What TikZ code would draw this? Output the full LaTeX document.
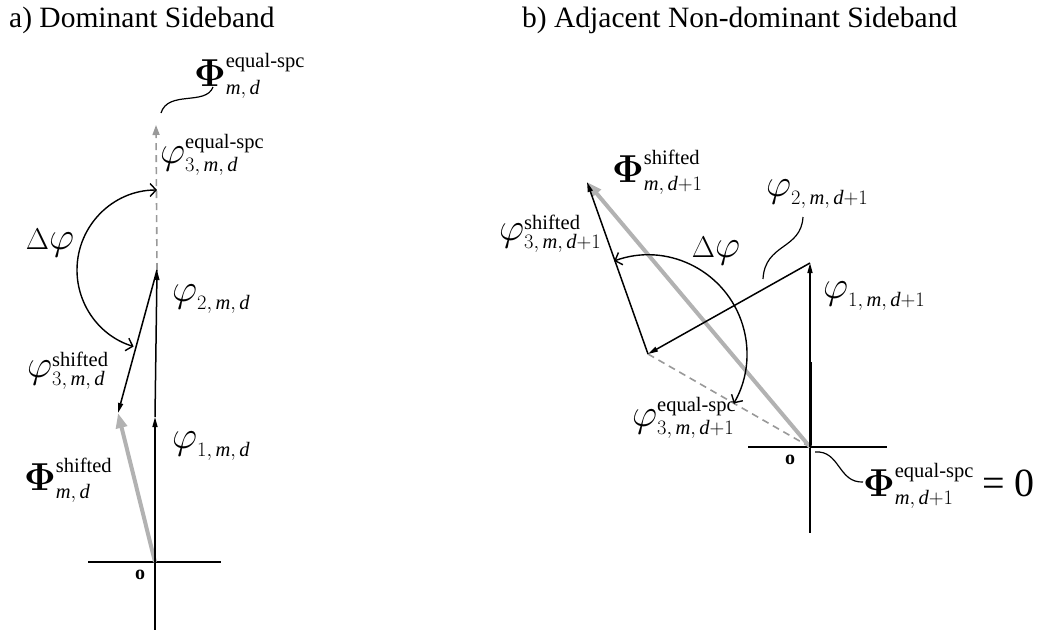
\RequirePackage{fix-cm}
\documentclass[tikz,border=0pt]{standalone}
\usepackage{amsmath}
\usepackage{fontspec}
\setmainfont{Liberation Serif}
\usetikzlibrary{arrows.meta}

\DeclareMathSizes{30}{30}{20.5}{17}
\newcommand{\bigPhi}{\mathord{\scalebox{1.3}{$\boldsymbol{\Phi}$}}}
\newcommand{\bigphi}{\mathord{\scalebox{1.3}{$\varphi$}}}

\begin{document}
\begin{tikzpicture}[
    x=1pt, y=-1pt,
    vec/.style={-{Triangle[length=10pt,width=5pt]}, line width=1.5pt, black},
    axis/.style={line width=1.5pt, black},
    equal/.style={gray!80, line width=1.6pt, dash pattern=on 7pt off 5pt},
    resultant/.style={-{Triangle[length=15pt,width=11pt]}, gray!60, line width=4pt},
    turn/.style={{Straight Barb[length=6pt,width=13pt]}-{Straight Barb[length=6pt,width=13pt]}, line width=1.4pt},
    lead/.style={line width=1.2pt},
    lbl/.style={font=\fontsize{30}{34}\selectfont, inner sep=0},
    title/.style={font=\fontsize{29.5}{34}\selectfont, anchor=west, inner sep=0},
    orig/.style={font=\fontsize{20}{22}\selectfont\bfseries, inner sep=0}
]
\useasboundingbox (0,0) rectangle (1055,632);

% Titles
\node[title] (ta) at (9,20) {a) Dominant Sideband};
\node[title] (tb) at (522,20) {b) Adjacent Non-dominant Sideband};

% a) points
\coordinate (oa) at (155,562);
\coordinate (pa1) at (155,417);
\coordinate (pa2) at (157,270);
\coordinate (pa3e) at (156,125);
\coordinate (pa3s) at (118,413);
\coordinate (axl) at (88,562);
\coordinate (axr) at (221,562);
\coordinate (axd) at (155,630);

% a) axes
\draw[axis] (axl) -- (axr);
\draw[axis] (oa) -- (axd);

% a) vectors
\draw[equal, -{Triangle[length=10pt,width=7pt]}] (pa2) -- (pa3e);
\draw[resultant] (oa) -- (pa3s);
\draw[vec] (oa) -- (pa1);
\draw[vec] (pa1) -- (pa2);
\draw[vec] (pa2) -- (pa3s);
\draw[turn] ([shift={(-90:80)}]pa2) arc[start angle=-90, end angle=-253, radius=80];

% a) labels
\node[lbl, anchor=west] (PhiEqA) at (194,76) {$\bigPhi^{\text{equal-spc}}_{\mathit{m},\,\mathit{d}}$};
\node[lbl, anchor=west] (phiEqA) at (160,155) {$\bigphi^{\text{equal-spc}}_{3,\,\mathit{m},\,\mathit{d}}$};
\node[lbl] (dphiA) at (50,243) {$\Delta\bigphi$};
\node[lbl, anchor=west] (phi2A) at (172,299) {$\bigphi_{2,\,\mathit{m},\,\mathit{d}}$};
\node[lbl, anchor=west] (phiShA) at (27,371) {$\bigphi^{\text{shifted}}_{3,\,\mathit{m},\,\mathit{d}}$};
\node[lbl, anchor=west] (phi1A) at (172,446) {$\bigphi_{1,\,\mathit{m},\,\mathit{d}}$};
\node[lbl, anchor=west] (PhiShA) at (24,480) {$\bigPhi^{\text{shifted}}_{\mathit{m},\,\mathit{d}}$};
\node[orig] (oA) at (140,575) {o};

\coordinate (wa1) at (161,113);
\coordinate (wa2) at (213,87);
\draw[lead] (wa1) .. controls (168,90) and (206,106) .. (wa2);

% b) points
\coordinate (ob) at (810,447);
\coordinate (pb1) at (810,263);
\coordinate (pb2) at (648,354);
\coordinate (pb3) at (587,182);
\coordinate (pbz) at (810,362);
\coordinate (bxl) at (748,447);
\coordinate (bxr) at (887,447);
\coordinate (bxd) at (810,533);

% b) axes
\draw[axis] (bxl) -- (bxr);
\draw[axis] (ob) -- (bxd);
\draw[line width=3pt] (pbz) -- (ob);

% b) vectors
\draw[equal] (pb2) -- (ob);
\draw[resultant] (ob) -- (pb3);
\draw[vec] (ob) -- (pb1);
\draw[vec] (pb1) -- (pb2);
\draw[vec] (pb2) -- (pb3);
\draw[turn] ([shift={(-110:99)}]pb2) arc[start angle=-110, end angle=30, radius=99];

% b) labels
\node[lbl, anchor=west] (PhiShB) at (612,172) {$\bigPhi^{\text{shifted}}_{\mathit{m},\,\mathit{d}+1}$};
\node[lbl, anchor=west] (phiShB) at (499,234) {$\bigphi^{\text{shifted}}_{3,\,\mathit{m},\,\mathit{d}+1}$};
\node[lbl] (dphiB) at (716,251) {$\Delta\bigphi$};
\node[lbl, anchor=west] (phi2B) at (766,194) {$\bigphi_{2,\,\mathit{m},\,\mathit{d}+1}$};
\node[lbl, anchor=west] (phi1B) at (823,296) {$\bigphi_{1,\,\mathit{m},\,\mathit{d}+1}$};
\node[lbl, anchor=west] (phiEqB) at (632,418) {$\bigphi^{\text{equal-spc}}_{3,\,\mathit{m},\,\mathit{d}+1}$};
\node[orig] (oB) at (790,460) {o};
\node[lbl, anchor=west] (PhiEqB) at (863,486) {$\bigPhi^{\text{equal-spc}}_{\mathit{m},\,\mathit{d}+1}$\;{\fontsize{40}{40}\selectfont = 0}};

\coordinate (wb1) at (763,279);
\coordinate (wb2) at (803,217);
\draw[lead] (wb1) .. controls (765,243) and (801,250) .. (wb2);
\coordinate (wc1) at (815,452);
\coordinate (wc2) at (863,482);
\draw[lead] (wc1) .. controls (840,450) and (838,483) .. (wc2);

\end{tikzpicture}
\end{document}
